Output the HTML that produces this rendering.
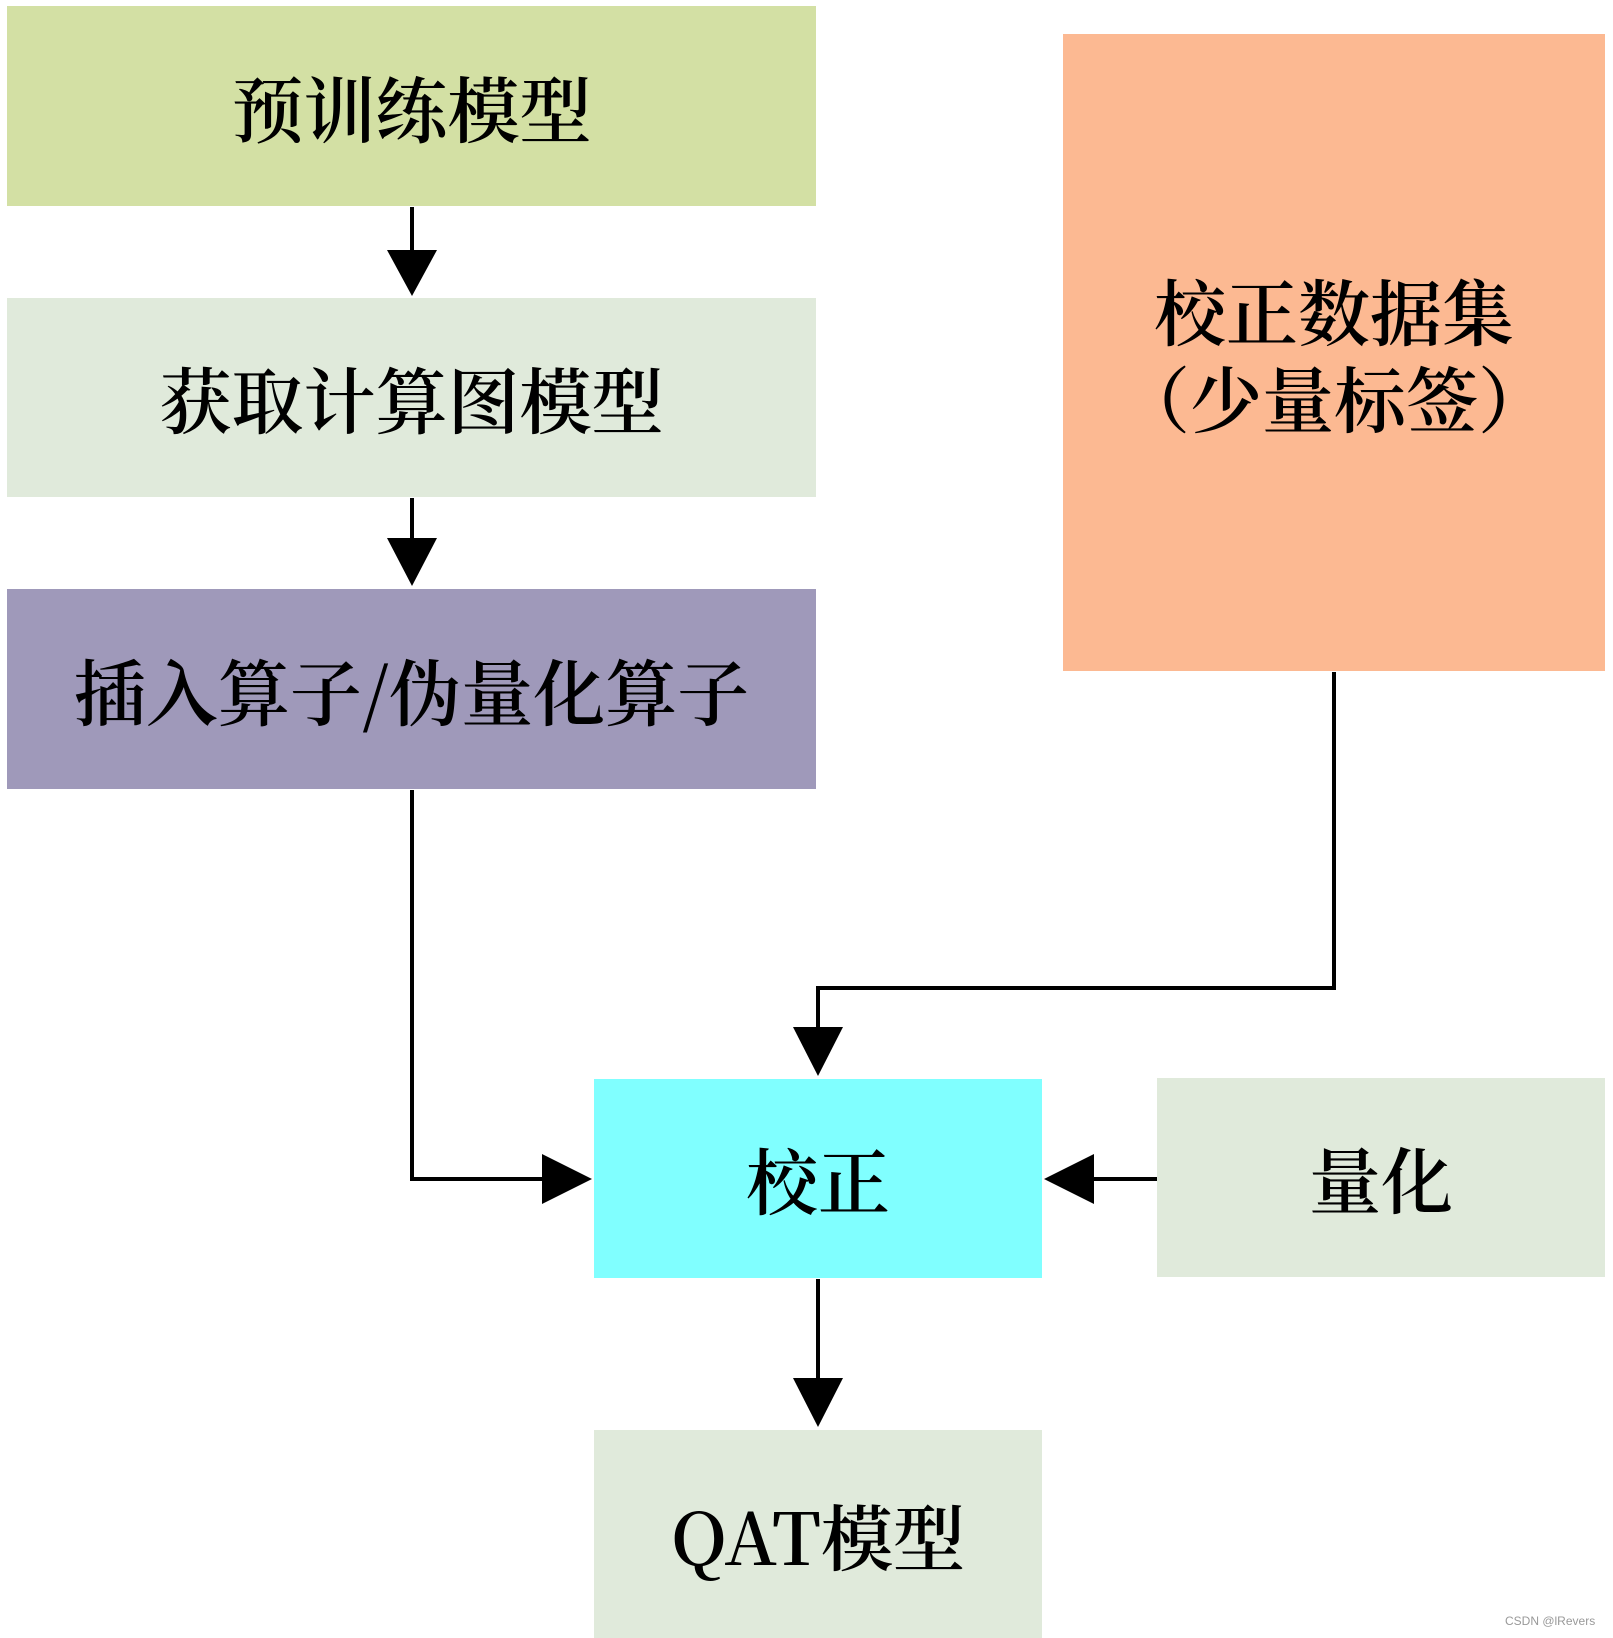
<!DOCTYPE html>
<html><head><meta charset="utf-8"><style>
body{margin:0;background:#fff;}
.wrap{position:relative;width:1613px;height:1638px;overflow:hidden;font-family:"Noto Serif CJK SC","Liberation Serif",serif;}
.b{position:absolute;display:flex;align-items:center;justify-content:center;font-size:72px;color:#000;font-weight:600;line-height:1.2;text-align:center;}
svg{position:absolute;left:0;top:0;}
</style></head><body><div class="wrap">
<div class="b" style="left:7px;top:6px;width:809px;height:200px;background:#d3e0a4;">预训练模型</div>
<div class="b" style="left:7px;top:298px;width:809px;height:199px;background:#e0eadb;">获取计算图模型</div>
<div class="b" style="left:7px;top:589px;width:809px;height:200px;background:#9f99ba;">插入算子/伪量化算子</div>
<div class="b" style="left:1063px;top:34px;width:542px;height:637px;background:#fcb992;">校正数据集<br>（少量标签）</div>
<div class="b" style="left:594px;top:1079px;width:448px;height:199px;background:#80ffff;">校正</div>
<div class="b" style="left:1157px;top:1078px;width:448px;height:199px;background:#e0eadb;">量化</div>
<div class="b" style="left:594px;top:1430px;width:448px;height:208px;background:#e0eadb;">QAT模型</div>
<svg width="1613" height="1638">
<g stroke="#000" stroke-width="4" fill="none">
<line x1="412" y1="207" x2="412" y2="252"/>
<line x1="412" y1="498" x2="412" y2="540"/>
<polyline points="412,790 412,1179 545,1179"/>
<polyline points="1334,672 1334,988 818,988 818,1030"/>
<line x1="1157" y1="1179" x2="1092" y2="1179"/>
<line x1="818" y1="1279" x2="818" y2="1380"/>
</g>
<g fill="#000">
<polygon points="387,250 437,250 412,296"/>
<polygon points="387,538 437,538 412,586"/>
<polygon points="542,1154 542,1204 592,1179"/>
<polygon points="793,1027 843,1027 818,1076"/>
<polygon points="1094,1154 1094,1204 1044,1179"/>
<polygon points="793,1378 843,1378 818,1427"/>
</g>
</svg>
<div style="position:absolute;left:1505px;top:1614px;font:12px 'Liberation Sans',sans-serif;color:#999;">CSDN @lRevers</div>
</div></body></html>
